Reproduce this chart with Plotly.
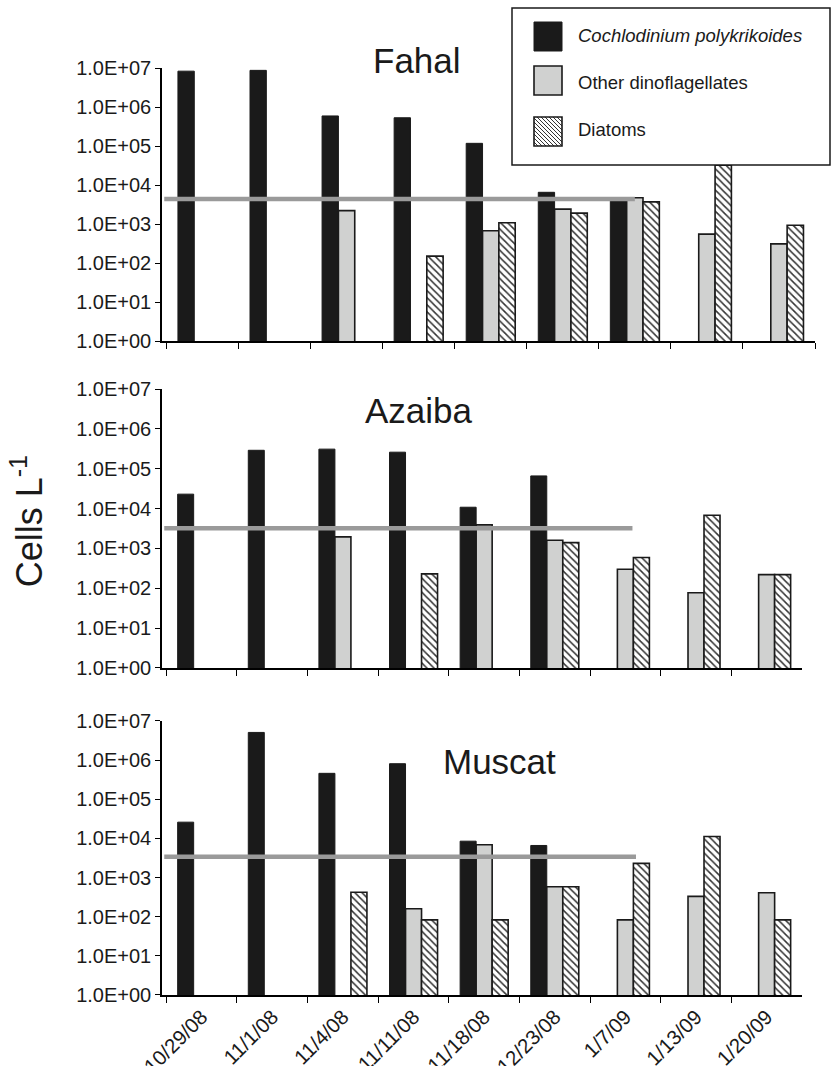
import plotly.graph_objects as go
from plotly.subplots import make_subplots

dates = ["10/29/08", "11/1/08", "11/4/08", "11/11/08", "11/18/08",
         "12/23/08", "1/7/09", "1/13/09", "1/20/09"]
sites = ["Fahal", "Azaiba", "Muscat"]
series_names = ["<i>Cochlodinium polykrikoides</i>", "Other dinoflagellates", "Diatoms"]

fahal_cochlo = [8.3e6, 8.7e6, 5.9e5, 5.3e5, 1.17e5, 6.5e3, 4.4e3, None, None]
fahal_other = [None, None, 2.2e3, None, 6.7e2, 2.4e3, 4.7e3, 5.5e2, 3.1e2]
fahal_diatom = [None, None, None, 1.5e2, 1.08e3, 1.9e3, 3.7e3, 3.2e4, 9.3e2]

azaiba_cochlo = [2.3e4, 2.9e5, 3.1e5, 2.6e5, 1.08e4, 6.6e4, None, None, None]
azaiba_other = [None, None, 1.95e3, None, 3.9e3, 1.6e3, 3.0e2, 77, 2.2e2]
azaiba_diatom = [None, None, None, 2.3e2, None, 1.4e3, 5.9e2, 6.8e3, 2.2e2]

muscat_cochlo = [2.6e4, 5.1e6, 4.6e5, 8.1e5, 8.5e3, 6.6e3, None, None, None]
muscat_other = [None, None, None, 1.6e2, 6.9e3, 5.8e2, 83, 3.3e2, 4.1e2]
muscat_diatom = [None, None, 4.2e2, 83, 83, 5.8e2, 2.3e3, 1.12e4, 83]

thresholds = [4.4e3, 3.2e3, 3.4e3]

ytick_vals = [1, 10, 100, 1e3, 1e4, 1e5, 1e6, 1e7]
ytick_text = ["1.0E+00", "1.0E+01", "1.0E+02", "1.0E+03", "1.0E+04",
              "1.0E+05", "1.0E+06", "1.0E+07"]

data = [
    [fahal_cochlo, fahal_other, fahal_diatom],
    [azaiba_cochlo, azaiba_other, azaiba_diatom],
    [muscat_cochlo, muscat_other, muscat_diatom],
]

FONT = "Liberation Sans, Arial, Helvetica, sans-serif"
W, H = 833, 1066
ML, MR, MT, MB = 162, 18, 68, 71
PW, PH = W - ML - MR, H - MT - MB


def px(x):
    return (x - ML) / PW


def py(y):
    return (H - MB - y) / PH


fig = make_subplots(rows=3, cols=1)

BLACK = "#1a1a1a"
GRAY = "#d0d1d0"
markers = [
    dict(color=BLACK, line=dict(color=BLACK, width=1)),
    dict(color=GRAY, line=dict(color=BLACK, width=1.6)),
    dict(color="white", line=dict(color=BLACK, width=1.6),
         pattern=dict(shape="\\", fgcolor="#333333", bgcolor="white",
                      size=5, solidity=0.3, fillmode="replace")),
]

for r in range(3):
    for s in range(3):
        fig.add_trace(go.Bar(
            x=dates, y=data[r][s], name=series_names[s],
            marker=markers[s], showlegend=False,
        ), row=r + 1, col=1)

y_domains = [[0.7055, 1.0], [0.3528, 0.6537], [0.0, 0.2956]]
x_domains = [[0, 1.0], [0, 0.980], [0, 0.980]]
line_end = [6.0, 6.1, 6.15]

for r in range(3):
    n = "" if r == 0 else str(r + 1)
    fig.layout["yaxis" + n].update(
        type="log", range=[0, 7], domain=y_domains[r],
        tickvals=ytick_vals, ticktext=ytick_text,
        showline=True, linecolor="black", linewidth=1.5,
        ticks="outside", ticklen=5, tickwidth=1.3, tickcolor="black",
        showgrid=False, zeroline=False,
        tickfont=dict(family=FONT, size=20, color=BLACK),
        automargin=False,
    )
    fig.layout["xaxis" + n].update(
        domain=x_domains[r], type="category",
        showline=True, linecolor="black", linewidth=1.5,
        ticks="outside", ticklen=6, tickwidth=1.3, tickcolor="black",
        tickson="boundaries", showgrid=False, zeroline=False,
        showticklabels=(r == 2), tickangle=-45,
        tickfont=dict(family=FONT, size=20.5, color=BLACK),
        automargin=False,
    )
    fig.add_shape(type="line", xref="x" + n, yref="y" + n,
                  x0=-0.53, x1=line_end[r], y0=thresholds[r], y1=thresholds[r],
                  line=dict(color="#9a9a9a", width=4.5), layer="above")

title_pos = [(0.391, 1.0086), (0.393, 0.631), (0.5176, 0.2524)]
for r in range(3):
    fig.add_annotation(text=sites[r], xref="paper", yref="paper",
                       x=title_pos[r][0], y=title_pos[r][1],
                       xanchor="center", yanchor="middle", showarrow=False,
                       font=dict(family=FONT, size=35, color=BLACK))

fig.add_annotation(text="Cells L<sup>-1</sup>", xref="paper", yref="paper",
                   x=-0.2067, y=0.511, textangle=-90,
                   xanchor="center", yanchor="middle", showarrow=False,
                   font=dict(family=FONT, size=36, color=BLACK))

# ---- hand-drawn legend box (styling) ----
fig.add_shape(type="rect", xref="paper", yref="paper",
              x0=px(512), x1=px(830), y0=py(8), y1=py(165),
              fillcolor="white", line=dict(color=BLACK, width=1.5), layer="above")
sq_x0, sq_x1 = 534, 562
rows_y = [(22, 51), (66, 95), (117, 146)]
fig.add_shape(type="rect", xref="paper", yref="paper",
              x0=px(sq_x0), x1=px(sq_x1), y0=py(rows_y[0][0]), y1=py(rows_y[0][1]),
              fillcolor=BLACK, line=dict(color=BLACK, width=1), layer="above")
fig.add_shape(type="rect", xref="paper", yref="paper",
              x0=px(sq_x0), x1=px(sq_x1), y0=py(rows_y[1][0]), y1=py(rows_y[1][1]),
              fillcolor=GRAY, line=dict(color=BLACK, width=1.6), layer="above")
hy0, hy1 = rows_y[2]
segs = []
c = sq_x0 - hy1
while c <= sq_x1 - hy0:
    xs = max(sq_x0, hy0 + c)
    xe = min(sq_x1, hy1 + c)
    if xe > xs:
        segs.append("M%.5f,%.5f L%.5f,%.5f" % (px(xs), py(xs - c), px(xe), py(xe - c)))
    c += 4
fig.add_shape(type="rect", xref="paper", yref="paper",
              x0=px(sq_x0), x1=px(sq_x1), y0=py(hy0), y1=py(hy1),
              fillcolor="white", line=dict(width=0), layer="above")
fig.add_shape(type="path", xref="paper", yref="paper", path=" ".join(segs),
              line=dict(color="#333333", width=1), layer="above")
fig.add_shape(type="rect", xref="paper", yref="paper",
              x0=px(sq_x0), x1=px(sq_x1), y0=py(hy0), y1=py(hy1),
              line=dict(color=BLACK, width=1.6), layer="above")
text_y = [36, 82, 130]
for s in range(3):
    fig.add_annotation(text=series_names[s], xref="paper", yref="paper",
                       x=px(576), y=py(text_y[s]), xanchor="left", yanchor="middle",
                       showarrow=False,
                       font=dict(family=FONT, size=18.5, color=BLACK))

fig.update_layout(
    width=W, height=H,
    margin=dict(l=ML, r=MR, t=MT, b=MB),
    paper_bgcolor="white", plot_bgcolor="white",
    barmode="group", bargap=0.32, bargroupgap=0,
    font=dict(family=FONT, color=BLACK),
    showlegend=False,
)

fig.write_html("out.html")
